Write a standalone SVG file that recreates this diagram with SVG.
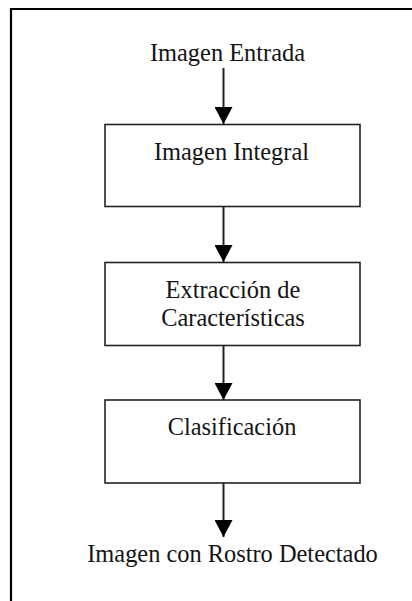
<svg xmlns="http://www.w3.org/2000/svg" width="412" height="601" viewBox="0 0 412 601">
<style>
.frame{fill:none;stroke:#000;stroke-width:2.2}
.box{fill:#fff;stroke:#222;stroke-width:1.6}
.lbl{font-family:"Liberation Serif","Times New Roman",serif;font-size:24.4px;fill:#141414;text-anchor:middle}
.conn{stroke:#222;stroke-width:2;fill:none}
</style>
<defs>
<marker id="ah" markerUnits="userSpaceOnUse" markerWidth="18" markerHeight="18" refX="17" refY="9" orient="auto">
<path d="M0,0 L17,9 L0,18 Z" fill="#000"/>
</marker>
</defs>
<rect width="412" height="601" fill="#fff"/>
<path class="frame" d="M11,601 L11,9 L412,9"/>
<g id="n0">
<text class="lbl" x="227.5" y="61">Imagen Entrada</text>
</g>
<g id="n1">
<rect class="box" x="105" y="124.5" width="255" height="82"/>
<text class="lbl" x="231.5" y="160">Imagen Integral</text>
</g>
<g id="n2">
<rect class="box" x="105" y="262.5" width="255" height="83"/>
<text class="lbl" x="233" y="297.5">Extracción de</text>
<text class="lbl" x="233" y="325.5">Características</text>
</g>
<g id="n3">
<rect class="box" x="105" y="400" width="255" height="83"/>
<text class="lbl" x="232" y="435">Clasificación</text>
</g>
<g id="n4">
<text class="lbl" x="232.5" y="561.5">Imagen con Rostro Detectado</text>
</g>
<g id="connectors">
<line class="conn" x1="223.5" y1="68" x2="223.5" y2="124" marker-end="url(#ah)"/>
<line class="conn" x1="223.5" y1="207" x2="223.5" y2="262" marker-end="url(#ah)"/>
<line class="conn" x1="223.5" y1="346" x2="223.5" y2="400" marker-end="url(#ah)"/>
<line class="conn" x1="223.5" y1="483" x2="223.5" y2="537" marker-end="url(#ah)"/>
</g>
</svg>
